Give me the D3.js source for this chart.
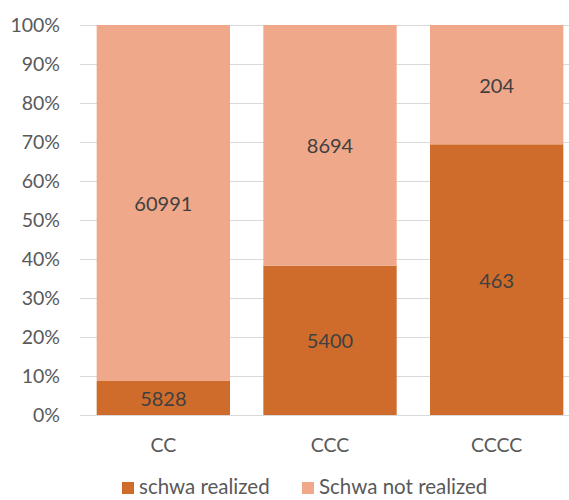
<!DOCTYPE html>
<html><head><meta charset="utf-8">
<script src="https://cdn.jsdelivr.net/npm/d3@7"></script>
<style>body{margin:0;background:#fff;} svg{display:block;}</style>
</head><body>
<svg id="c" width="569" height="500"></svg>
<script>
const categories = ["CC", "CCC", "CCCC"];
const realized = [5828, 5400, 463];
const notRealized = [60991, 8694, 204];
const seriesNames = ["schwa realized", "Schwa not realized"];
const yTicks = [0, 0.1, 0.2, 0.3, 0.4, 0.5, 0.6, 0.7, 0.8, 0.9, 1.0];

const colors = ["#D06C2B", "#F0A88A"];
const textColor = "#595959";
const font = "Lato, 'Open Sans', sans-serif";

const svg = d3.select("#c");
const x = d3.scaleBand().domain(categories).range([80, 580]).paddingInner(0.2).paddingOuter(0.1);
const y = d3.scaleLinear().domain([0, 1]).range([415, 25]);

svg.append("g").selectAll("line").data(yTicks).join("line")
  .attr("x1", 80).attr("x2", 580)
  .attr("y1", d => Math.round(y(d)) + 0.5).attr("y2", d => Math.round(y(d)) + 0.5)
  .attr("stroke", "#D9D9D9").attr("stroke-width", 1);

svg.append("g").selectAll("text").data(yTicks).join("text")
  .attr("x", 60).attr("y", d => y(d)).attr("dy", "0.35em")
  .attr("text-anchor", "end").attr("font-family", font).attr("font-size", 19.5)
  .attr("fill", textColor).text(d => d3.format(".0%")(d));

const rows = categories.map((c, i) => {
  const t = realized[i] + notRealized[i];
  return {cat: c, vals: [realized[i], notRealized[i]], fr: [realized[i] / t, notRealized[i] / t]};
});

rows.forEach(r => {
  let acc = 0;
  r.fr.forEach((f, j) => {
    const y0 = acc, y1 = acc + f;
    acc = y1;
    svg.append("rect")
      .attr("x", x(r.cat)).attr("width", x.bandwidth())
      .attr("y", y(y1)).attr("height", y(y0) - y(y1))
      .attr("fill", colors[j]);
    svg.append("text")
      .attr("x", x(r.cat) + x.bandwidth() / 2).attr("y", (y(y0) + y(y1)) / 2 + 1).attr("dy", "0.35em")
      .attr("text-anchor", "middle").attr("font-family", font).attr("font-size", 20)
      .attr("fill", "#404040").text(r.vals[j]);
  });
});

svg.append("g").selectAll("text").data(categories).join("text")
  .attr("x", d => x(d) + x.bandwidth() / 2).attr("y", 445).attr("dy", "0.35em")
  .attr("text-anchor", "middle").attr("font-family", font).attr("font-size", 19.5)
  .attr("fill", textColor).text(d => d);

const legX = [122, 302];
seriesNames.forEach((n, j) => {
  svg.append("rect").attr("x", legX[j]).attr("y", 482).attr("width", 12).attr("height", 12).attr("fill", colors[j]);
  svg.append("text").attr("x", legX[j] + 17).attr("y", 487).attr("dy", "0.35em")
    .attr("font-family", font).attr("font-size", 20.5).attr("fill", textColor).text(n);
});
</script>
</body></html>
